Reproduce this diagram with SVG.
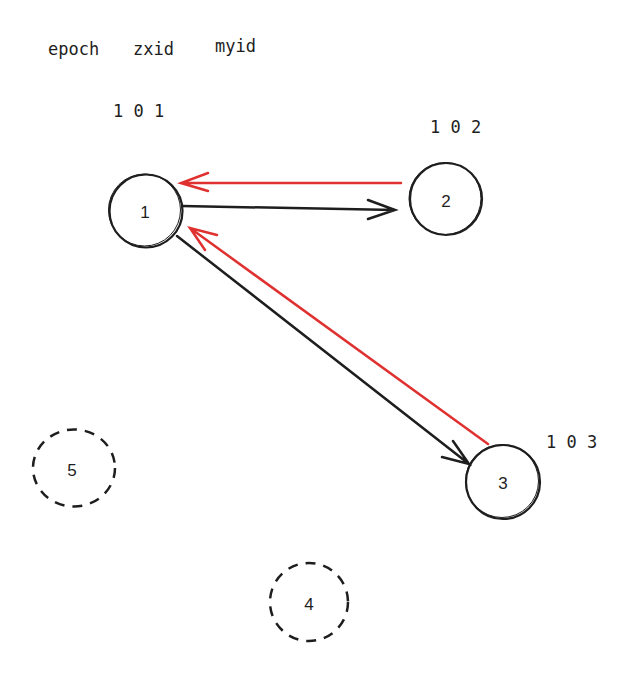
<svg xmlns="http://www.w3.org/2000/svg" width="638" height="675" viewBox="0 0 638 675">
<style>
.lbl{font-family:"DejaVu Sans Mono","Liberation Mono",monospace;font-size:17px;fill:#1e1e1e}
.num{font-family:"Liberation Sans","DejaVu Sans",sans-serif;font-size:17px;fill:#1e1e1e;text-anchor:middle;dominant-baseline:central}
.node{fill:none;stroke:#1e1e1e;stroke-width:2.2}
.sk{fill:none;stroke:#1e1e1e;stroke-width:1}
.dash{fill:none;stroke:#1e1e1e;stroke-width:2.5;stroke-dasharray:10 8}
.blk{fill:none;stroke:#1e1e1e;stroke-width:2.5;stroke-linecap:round}
.red{fill:none;stroke:#e03131;stroke-width:2.5;stroke-linecap:round}
</style>
<rect width="638" height="675" fill="#fff"/>
<text class="lbl" x="48" y="55">epoch</text>
<text class="lbl" x="133" y="55">zxid</text>
<text class="lbl" x="215" y="52">myid</text>
<text class="lbl" x="113" y="117">1 0 1</text>
<text class="lbl" x="430" y="133">1 0 2</text>
<text class="lbl" x="546" y="448">1 0 3</text>
<g id="node1"><circle class="node" cx="146" cy="211" r="36.5"/><circle class="sk" cx="144.5" cy="210" r="36"/><text class="num" x="145" y="212">1</text></g>
<g id="node2"><circle class="node" cx="446" cy="199" r="36"/><circle class="sk" cx="445" cy="198.5" r="36"/><text class="num" x="446" y="201">2</text></g>
<g id="node3"><circle class="node" cx="503" cy="482" r="37"/><circle class="sk" cx="502" cy="481" r="36.5"/><text class="num" x="503" y="483">3</text></g>
<g id="node4"><circle class="dash" cx="309" cy="602" r="39"/><text class="num" x="309" y="604">4</text></g>
<g id="node5"><ellipse class="dash" cx="74" cy="468" rx="41" ry="38.5"/><text class="num" x="72" y="470">5</text></g>
<g id="connectors">
<path class="red" d="M401 183 L181 183 M208 173 L181 183 L208 191"/>
<path class="blk" d="M182 206 L395 210 M368 200 L395 210 L368 219"/>
<path class="blk" d="M177 236 L469 464 M453 441 L469 464 L442 457" stroke-width="2.2"/>
<path class="red" d="M488 444 L190 228 M217 235 L190 228 L205 250" stroke-width="2.2"/>
</g>
</svg>
